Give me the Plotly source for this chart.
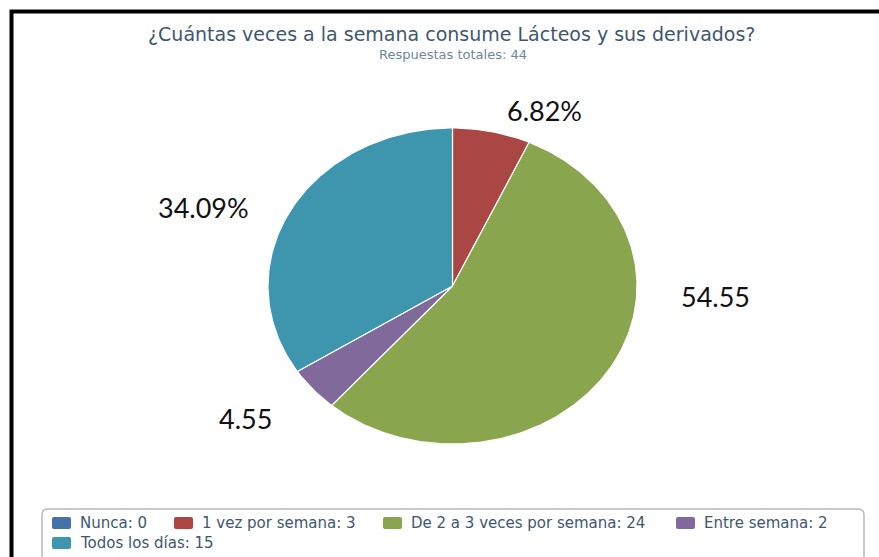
import numpy as np
import plotly.graph_objects as go

# Survey answers
categories = ["Nunca", "1 vez por semana", "De 2 a 3 veces por semana", "Entre semana", "Todos los días"]
counts = [0, 3, 24, 2, 15]
colors = ["#4572A7", "#AA4643", "#89A54E", "#80699B", "#3D96AE"]
# whether each outside label carries a percent sign
label_has_pct = [False, True, False, False, True]

W, H = 879, 557
total = sum(counts)


def px(x):
    return x / W


def py(y):
    return 1 - y / H


def rounded_rect(x0, y0, x1, y1, r):
    return (
        f"M {px(x0 + r)} {py(y0)} L {px(x1 - r)} {py(y0)} "
        f"Q {px(x1)} {py(y0)} {px(x1)} {py(y0 + r)} "
        f"L {px(x1)} {py(y1 - r)} Q {px(x1)} {py(y1)} {px(x1 - r)} {py(y1)} "
        f"L {px(x0 + r)} {py(y1)} Q {px(x0)} {py(y1)} {px(x0)} {py(y1 - r)} "
        f"L {px(x0)} {py(y0 + r)} Q {px(x0)} {py(y0)} {px(x0 + r)} {py(y0)} Z"
    )


fig = go.Figure()

# Pie drawn as filled wedges on an x/y box so it keeps its oval shape
start = 0.0
for cat, val, col in zip(categories, counts, colors):
    frac = val / total
    if val > 0:
        th = np.linspace(start, start + frac, max(3, int(frac * 400))) * 2 * np.pi
        xs = np.concatenate([[0], np.sin(th), [0]])
        ys = np.concatenate([[0], np.cos(th), [0]])
        fig.add_trace(go.Scatter(
            x=xs, y=ys, mode="lines", fill="toself", fillcolor=col,
            line=dict(color="white", width=1.2), hoverinfo="skip",
            showlegend=False,
        ))
    start += frac

# Percent labels placed around the pie
label_pos = {1: (544, 110), 2: (715, 296), 3: (245, 418), 4: (203, 207)}
annotations = []
for i, (x, y) in label_pos.items():
    pct = counts[i] / total * 100
    txt = f"{pct:.2f}" + ("%" if label_has_pct[i] else "")
    annotations.append(dict(
        x=px(x), y=py(y), xref="paper", yref="paper", text=txt,
        showarrow=False, xanchor="center", yanchor="middle",
        font=dict(family="Lato", size=27, color="#111111"),
    ))

annotations.append(dict(
    x=px(451), y=py(34), xref="paper", yref="paper",
    text="¿Cuántas veces a la semana consume Lácteos y sus derivados?",
    showarrow=False, xanchor="center", yanchor="middle",
    font=dict(family="DejaVu Sans", size=19, color="#3E576F"),
))
annotations.append(dict(
    x=px(453), y=py(54), xref="paper", yref="paper",
    text="Respuestas totales: 44",
    showarrow=False, xanchor="center", yanchor="middle",
    font=dict(family="DejaVu Sans", size=13, color="#6D869F"),
))

shapes = []

# Legend: swatch + label, flowing left to right and wrapping to a second row
legend_slots = [(52, 523), (174, 523), (383, 523), (676, 523), (52, 543)]
for (sx, sy), cat, val, col in zip(legend_slots, categories, counts, colors):
    shapes.append(dict(type="path", xref="paper", yref="paper",
                       path=rounded_rect(sx, sy - 6, sx + 19, sy + 6, 2),
                       line=dict(width=0), fillcolor=col))
    annotations.append(dict(
        x=px(sx + 26), y=py(sy), xref="paper", yref="paper",
        text=f"{cat}: {val}", showarrow=False,
        xanchor="left", yanchor="middle",
        font=dict(family="DejaVu Sans", size=15, color="#3E576F"),
    ))

# Legend frame with rounded corners and the outer black frame
shapes.append(dict(type="path", xref="paper", yref="paper",
                   path=rounded_rect(42, 509, 864, 580, 6),
                   line=dict(color="#B8B8B8", width=1.5), fillcolor="rgba(0,0,0,0)"))
shapes.append(dict(type="rect", xref="paper", yref="paper",
                   x0=px(11.5), y0=py(11.5), x1=px(W + 20), y1=py(H + 20),
                   line=dict(color="black", width=4), fillcolor="rgba(0,0,0,0)"))

fig.update_layout(
    width=W, height=H,
    margin=dict(l=0, r=0, t=0, b=0),
    paper_bgcolor="white", plot_bgcolor="white",
    xaxis=dict(domain=[px(268), px(637)], range=[-1, 1], visible=False, fixedrange=True),
    yaxis=dict(domain=[py(444), py(128)], range=[-1, 1], visible=False, fixedrange=True),
    showlegend=False,
    annotations=annotations,
    shapes=shapes,
)

fig.write_html("out.html")
